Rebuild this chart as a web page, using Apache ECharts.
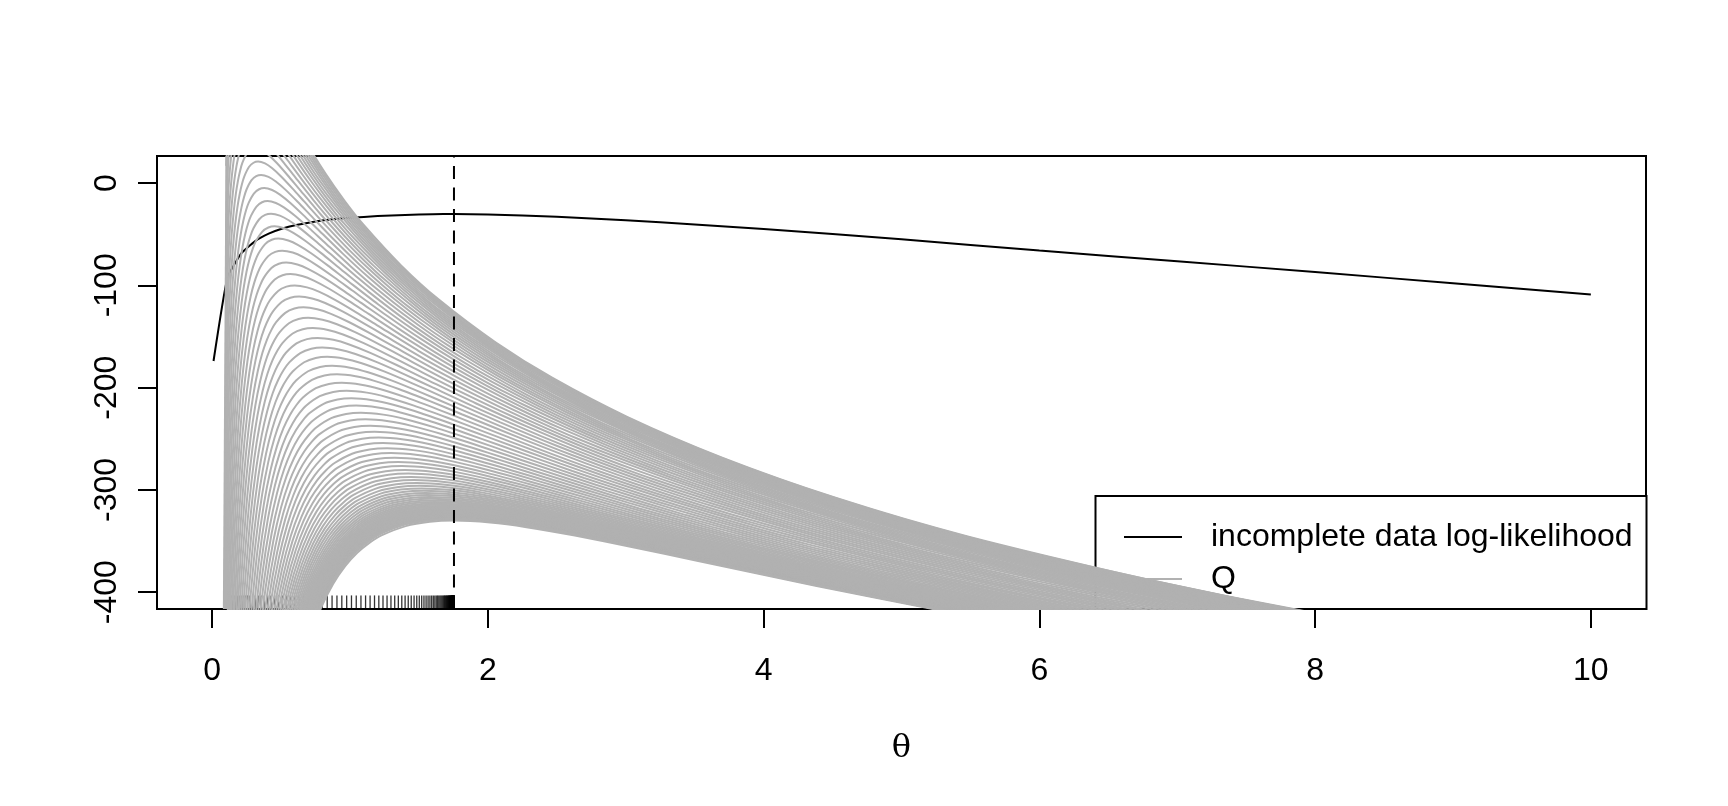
<!DOCTYPE html>
<html>
<head>
<meta charset="utf-8">
<script src="https://cdn.jsdelivr.net/npm/echarts@6/dist/echarts.min.js"></script>
<style>
html,body{margin:0;padding:0;background:#fff;}
#chart{width:1728px;height:806px;}
</style>
</head>
<body>
<div id="chart"></div>
<script>
// ---- data ----
const xTicks = [0, 2, 4, 6, 8, 10];
const yTicks = [-400, -300, -200, -100, 0];
const thetaHat = 1.754;   // position of the dashed vertical line

// incomplete data log-likelihood
const llTheta = [0.01, 0.11, 0.21, 0.31, 0.41, 0.51, 0.61, 0.71, 0.81, 0.91, 1.0, 1.2, 1.4, 1.6, 1.754, 2.0, 2.5, 3.0, 3.5, 4.0, 5.0, 6.0, 7.0, 8.0, 9.0, 10.0];
const llValue = [-174, -93, -69, -57, -49.5, -44.5, -41, -38.5, -36.5, -35, -34, -32.3, -31.2, -30.5, -30.3, -30.7, -33, -36.5, -40.5, -45, -55, -66, -76.5, -87, -98, -109];

// EM iterates (rug). NOTE: only the ticks between about 0.8 and 1.55 can be seen
// one by one in the picture; the early ticks (hidden under the grey curves) and
// the dense black block near 1.75 are estimates that follow the spacing trend.
const rugTheta = [0.127, 0.137, 0.1472, 0.1581, 0.1697, 0.1821, 0.1953, 0.2093, 0.2242, 0.2400, 0.2567, 0.2744, 0.2931, 0.3128, 0.3335, 0.3553, 0.3782, 0.4021, 0.4271, 0.4532, 0.4803, 0.5084, 0.5375, 0.5676, 0.5986, 0.6304, 0.6630, 0.6963, 0.7302, 0.7646, 0.7994, 0.8345, 0.8698, 0.9052, 0.9405, 0.9757, 1.0106, 1.0452, 1.0793, 1.1128, 1.1456, 1.1777, 1.2089, 1.2392, 1.2686, 1.2969, 1.3242, 1.3504, 1.3755, 1.3995, 1.4223, 1.4440, 1.4646, 1.4841, 1.5025, 1.5199, 1.5363, 1.5517, 1.5661, 1.5796, 1.5923, 1.6041, 1.6152, 1.6255, 1.6351, 1.6440, 1.6523, 1.6600, 1.6672, 1.6739, 1.6800, 1.6857, 1.6910, 1.6959, 1.7004, 1.7046, 1.7085, 1.7120, 1.7153, 1.7184, 1.7212, 1.7238, 1.7262, 1.7284, 1.7304, 1.7323, 1.7340, 1.7356, 1.7370, 1.7384, 1.7396, 1.7408, 1.7418, 1.7428, 1.7437, 1.7445, 1.7453, 1.7460, 1.7466, 1.7472, 1.7478, 1.7483, 1.7487, 1.7491, 1.7495, 1.7499, 1.7502, 1.7505, 1.7508, 1.7511, 1.7513, 1.7515, 1.7517, 1.7519, 1.7521, 1.7522, 1.7524, 1.7525, 1.7526, 1.7527, 1.7528, 1.7529, 1.7530];

// Q curves. NOTE: there are far too many grey curves to read one by one. In the
// picture they all have the same shape, moved and stretched. So each curve is
// given here by the position and height of its maximum. These were estimated to
// match the visible peaks, the edges of the grey band and the rug ticks. They
// were not read separately for every curve.
const qPeakTheta = [0.137, 0.1472, 0.1581, 0.1697, 0.1821, 0.1953, 0.2093, 0.2242, 0.2400, 0.2567, 0.2744, 0.2931, 0.3128, 0.3335, 0.3553, 0.3782, 0.4021, 0.4271, 0.4532, 0.4803, 0.5084, 0.5375, 0.5676, 0.5986, 0.6304, 0.6630, 0.6963, 0.7302, 0.7646, 0.7994, 0.8345, 0.8698, 0.9052, 0.9405, 0.9757, 1.0106, 1.0452, 1.0793, 1.1128, 1.1456, 1.1777, 1.2089, 1.2392, 1.2686, 1.2969, 1.3242, 1.3504, 1.3755, 1.3995, 1.4223, 1.4440, 1.4646, 1.4841, 1.5025, 1.5199, 1.5363, 1.5517, 1.5661, 1.5796, 1.5923, 1.6041, 1.6152, 1.6255, 1.6351, 1.6440, 1.6523, 1.6600, 1.6672, 1.6739, 1.6800, 1.6857, 1.6910, 1.6959, 1.7004, 1.7046, 1.7085, 1.7120, 1.7153, 1.7184, 1.7212, 1.7238, 1.7262, 1.7284, 1.7304, 1.7323, 1.7340, 1.7356, 1.7370, 1.7384, 1.7396, 1.7408, 1.7418, 1.754];
const qPeakValue = [202.8, 188.2, 173.7, 159.2, 144.9, 130.6, 116.4, 102.4, 88.5, 74.7, 61.0, 47.5, 34.1, 21.0, 7.9, -4.9, -17.6, -30.0, -42.3, -54.3, -66.1, -77.7, -89.0, -100.1, -110.9, -121.5, -131.7, -141.7, -151.4, -160.8, -169.8, -178.6, -187.0, -195.2, -203.0, -210.4, -217.6, -224.5, -231.0, -237.3, -243.2, -248.8, -254.2, -259.2, -264.0, -268.5, -272.7, -276.7, -280.5, -284.0, -287.3, -290.4, -293.3, -296.0, -298.5, -300.8, -303.0, -305.0, -306.9, -308.7, -310.3, -311.8, -313.2, -314.5, -315.7, -316.8, -317.9, -318.8, -319.7, -320.5, -321.2, -321.9, -322.6, -323.2, -323.7, -324.2, -324.6, -325.1, -325.5, -325.8, -326.2, -326.5, -326.8, -327.0, -327.2, -327.5, -327.7, -327.9, -328.0, -328.2, -328.3, -328.5, -330.0];

// the shared shape of a Q curve: theta as a multiple of the peak's theta, and the
// drop below the peak (estimated from the lowest curve and from the band edges)
const qShapeRatio = [0.15, 0.17, 0.2, 0.22, 0.25, 0.28, 0.3, 0.35, 0.4, 0.45, 0.5, 0.55, 0.6, 0.65, 0.7, 0.8, 0.9, 1, 1.15, 1.3, 1.5, 1.75, 2, 2.5, 3, 3.5, 4, 5, 6, 7, 8, 10, 12, 15, 18, 22, 27, 33, 40, 50, 60, 75];
const qShapeDrop = [761.5, 628.2, 482.9, 410.3, 326.0, 262.3, 228.1, 163.1, 117.9, 85.6, 62.0, 44.5, 31.5, 21.8, 14.5, 5.4, 1.2, 0, 1.9, 6.4, 14.6, 26.5, 39.0, 63.9, 87.3, 108.8, 128.5, 163.5, 193.6, 219.9, 243.3, 283.3, 316.8, 358.5, 393.1, 431.6, 471.2, 510.4, 548.2, 592.3, 628.4, 672.8];

// The Q curves start at the first grid point of theta. Their steep left branches
// show as near-vertical lines (theta at the bottom edge, theta at the top edge).
const qDrawFrom = 0.10;
const qLeftBranchBottom = [0.085, 0.091, 0.097, 0.103, 0.109];
const qLeftBranchTop = [0.104, 0.106, 0.108, 0.110, 0.112];

// ---- chart ----
const FONT = "'Liberation Sans', Arial, Helvetica, sans-serif";
const X_MIN = -0.4, X_MAX = 10.4, Y_MIN = -416.4, Y_MAX = 26.4;
const GRAY = '#b1b1b1';

const chart = echarts.init(document.getElementById('chart'), null, {renderer: 'canvas'});

const series = [];
series.push({
  type: 'line', name: 'incomplete data log-likelihood',
  data: llTheta.map((t, i) => [t, llValue[i]]),
  showSymbol: false, smooth: 0.15, z: 2,
  lineStyle: {color: '#000', width: 2}, silent: true
});
series.push({
  type: 'scatter', name: 'rug',
  data: rugTheta.map(t => [t, Y_MIN]),
  symbol: 'rect', symbolSize: [1.3, 13.6], symbolOffset: [0, '-50%'],
  itemStyle: {color: '#000'}, z: 3, silent: true
});
qLeftBranchBottom.forEach((b, i) => {
  series.push({
    type: 'line', name: 'Q',
    data: [[b, Y_MIN], [qLeftBranchTop[i], Y_MAX]],
    showSymbol: false, z: 4, silent: true,
    lineStyle: {color: GRAY, width: 2}
  });
});
qPeakTheta.forEach((m, i) => {
  series.push({
    type: 'line', name: 'Q',
    data: qShapeRatio.map((u, j) => [m * u, qPeakValue[i] - qShapeDrop[j]])
                     .filter(p => p[0] >= qDrawFrom),
    showSymbol: false, smooth: 0.25, z: 4, silent: true, clip: true,
    lineStyle: {color: GRAY, width: 2}
  });
});
series.push({
  type: 'line', name: 'mle',
  data: [[thetaHat, Y_MIN], [thetaHat, Y_MAX]],
  showSymbol: false, z: 5, silent: true,
  lineStyle: {color: '#000', width: 2, type: [13, 8.5]}
});

const legX = 1095.5, legY = 496, legW = 551, legH = 113;
chart.setOption({
  animation: false,
  backgroundColor: '#fff',
  grid: {left: 157, right: 82, top: 156, bottom: 197, show: true,
         borderColor: '#000', borderWidth: 2, backgroundColor: 'transparent'},
  xAxis: {
    type: 'value', min: X_MIN, max: X_MAX,
    axisLine: {show: false, onZero: false}, splitLine: {show: false},
    axisTick: {show: true, inside: false, customValues: xTicks, length: 19, lineStyle: {color: '#000', width: 2}},
    axisLabel: {show: true, customValues: xTicks, fontSize: 32, fontFamily: FONT, color: '#000', margin: 46},
    name: 'θ', nameLocation: 'middle', nameGap: 124,
    nameTextStyle: {fontSize: 32, fontFamily: "'DejaVu Serif', 'Liberation Serif', serif", color: '#000'}
  },
  yAxis: {
    type: 'value', min: Y_MIN, max: Y_MAX,
    axisLine: {show: false, onZero: false}, splitLine: {show: false},
    axisTick: {show: true, inside: false, customValues: yTicks, length: 19, lineStyle: {color: '#000', width: 2}},
    axisLabel: {show: true, customValues: yTicks, rotate: 90, fontSize: 32, fontFamily: FONT, color: '#000', margin: 34}
  },
  graphic: [
    {type: 'rect', z: 0, shape: {x: legX, y: legY, width: legW, height: legH},
     style: {fill: '#fff', stroke: '#000', lineWidth: 2}},
    {type: 'line', z: 0, shape: {x1: 1124, y1: 537, x2: 1182, y2: 537}, style: {stroke: '#000', lineWidth: 2}},
    {type: 'line', z: 0, shape: {x1: 1124, y1: 579, x2: 1182, y2: 579}, style: {stroke: GRAY, lineWidth: 2}},
    {type: 'text', z: 0, x: 1211, y: 537, style: {text: 'incomplete data log-likelihood', font: '32px ' + FONT, fill: '#000', textVerticalAlign: 'middle'}},
    {type: 'text', z: 0, x: 1211, y: 579, style: {text: 'Q', font: '32px ' + FONT, fill: '#000', textVerticalAlign: 'middle'}}
  ],
  series: series
});
</script>
</body>
</html>
